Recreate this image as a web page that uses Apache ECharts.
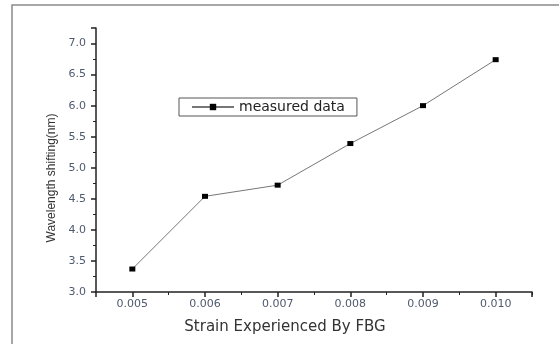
<!DOCTYPE html>
<html>
<head>
<meta charset="utf-8">
<script src="https://cdn.jsdelivr.net/npm/echarts@6/dist/echarts.min.js"></script>
<style>
  html, body { margin: 0; padding: 0; background: #fff; }
  #chart { width: 559px; height: 344px; }
</style>
</head>
<body>
<div id="chart"></div>
<script>
// strain values on the x axis, wavelength shift in nm on the y axis
const strain = [0.005, 0.006, 0.007, 0.008, 0.009, 0.010]
const shift = [3.37, 4.54, 4.72, 5.39, 6.00, 6.74]
const seriesName = 'measured data'

const chart = echarts.init(document.getElementById('chart'))
const axisColor = '#222'
const labelColor = '#4f5a6e'

const options = {
    animation: false,
    backgroundColor: '#fff',
    graphic: [
        {
            type: 'rect',
            shape: { x: 12, y: 5, width: 700, height: 500 },
            style: { fill: 'none', stroke: '#8a8a8a', lineWidth: 1.5 },
            silent: true
        }
    ],
    grid: {
        left: 96,
        right: 27,
        top: 28,
        bottom: 52
    },
    legend: {
        left: 179,
        top: 98,
        padding: [2, 12, 2, 12],
        borderColor: '#555',
        borderWidth: 1,
        borderRadius: 0,
        itemWidth: 42,
        itemHeight: 8,
        textStyle: { fontFamily: 'DejaVu Sans', fontSize: 14, color: '#222' },
        data: [seriesName]
    },
    xAxis: {
        type: 'value',
        min: 0.0045,
        max: 0.0105,
        splitNumber: 6,
        name: 'Strain Experienced By FBG',
        nameLocation: 'middle',
        nameGap: 28,
        nameTextStyle: {
            fontFamily: 'DejaVu Sans',
            fontSize: 15,
            color: '#333',
            padding: [0, 58, 0, 0]
        },
        axisLine: { show: true, onZero: false, lineStyle: { color: axisColor, width: 1.5 } },
        axisTick: { show: true, inside: false, length: 5, lineStyle: { color: axisColor, width: 1.5 } },
        minorTick: { show: true, splitNumber: 2, length: 3, lineStyle: { color: axisColor, width: 1 } },
        splitLine: { show: false },
        axisLabel: {
            showMinLabel: false,
            showMaxLabel: false,
            margin: 7,
            fontFamily: 'DejaVu Sans',
            fontSize: 11,
            color: labelColor,
            formatter: v => v.toFixed(3)
        }
    },
    yAxis: {
        type: 'value',
        min: 3,
        max: 7.25,
        interval: 0.5,
        name: 'Wavelength shifting(nm)',
        nameLocation: 'middle',
        nameGap: 34,
        nameTextStyle: {
            fontFamily: 'Liberation Sans',
            fontSize: 12,
            color: '#333',
            padding: [0, 36, 0, 0]
        },
        axisLine: { show: true, onZero: false, lineStyle: { color: axisColor, width: 1.5 } },
        axisTick: { show: true, inside: false, length: 5, lineStyle: { color: axisColor, width: 1.5 } },
        minorTick: { show: true, splitNumber: 2, length: 3, lineStyle: { color: axisColor, width: 1 } },
        splitLine: { show: false },
        axisLabel: {
            showMaxLabel: false,
            margin: 10,
            fontFamily: 'DejaVu Sans',
            fontSize: 11,
            color: labelColor,
            formatter: v => v.toFixed(1)
        }
    },
    series: [
        {
            name: seriesName,
            type: 'line',
            data: strain.map((x, i) => [x, shift[i]]),
            symbol: 'rect',
            symbolSize: [6, 5],
            lineStyle: { color: '#777', width: 1 },
            itemStyle: { color: '#000' }
        }
    ]
}
chart.setOption(options)
</script>
</body>
</html>
